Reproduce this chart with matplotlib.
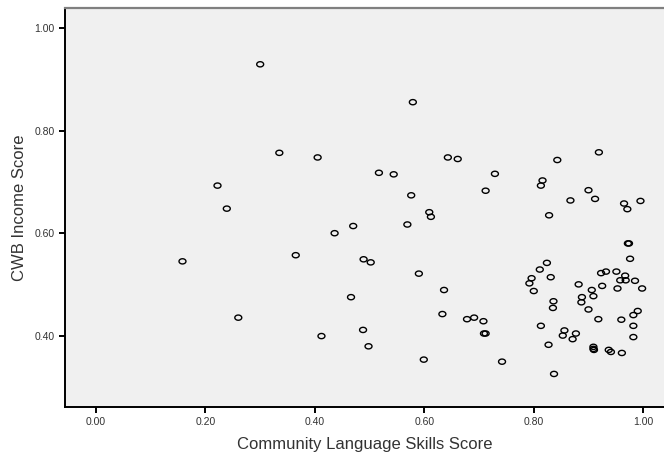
import numpy as np
import matplotlib
matplotlib.use("Agg")
import matplotlib.pyplot as plt
from matplotlib.path import Path

plt.rcParams['font.family'] = ['Liberation Sans', 'DejaVu Sans']

# Community language skills score vs. CWB income score
language_score = [
    0.300, 0.335, 0.405, 0.222, 0.239, 0.579, 0.643, 0.661, 0.517, 0.544,
    0.729, 0.843, 0.919, 0.576, 0.712, 0.816, 0.813, 0.900, 0.912, 0.867,
    0.965, 0.971, 0.995, 0.609, 0.612, 0.828, 0.470, 0.569, 0.436, 0.158,
    0.365, 0.260, 0.412, 0.489, 0.502, 0.466, 0.488, 0.498, 0.590, 0.636,
    0.633, 0.599, 0.678, 0.691, 0.708, 0.709, 0.712, 0.742, 0.824, 0.811,
    0.831, 0.796, 0.792, 0.800, 0.836, 0.835, 0.813, 0.827, 0.837, 0.856,
    0.853, 0.871, 0.877, 0.882, 0.906, 0.909, 0.888, 0.887, 0.900, 0.918,
    0.909, 0.909, 0.910, 0.937, 0.941, 0.961, 0.925, 0.923, 0.932, 0.951,
    0.967, 0.968, 0.958, 0.985, 0.998, 0.953, 0.972, 0.974, 0.976, 0.990,
    0.982, 0.960, 0.982, 0.982,
]
income_score = [
    0.930, 0.757, 0.748, 0.693, 0.648, 0.856, 0.748, 0.745, 0.718, 0.715,
    0.716, 0.743, 0.758, 0.674, 0.683, 0.703, 0.693, 0.684, 0.667, 0.664,
    0.658, 0.647, 0.663, 0.641, 0.632, 0.635, 0.614, 0.617, 0.600, 0.545,
    0.557, 0.435, 0.399, 0.549, 0.543, 0.475, 0.411, 0.379, 0.521, 0.489,
    0.442, 0.353, 0.432, 0.435, 0.428, 0.404, 0.404, 0.349, 0.542, 0.529,
    0.514, 0.512, 0.502, 0.487, 0.467, 0.454, 0.419, 0.382, 0.325, 0.410,
    0.400, 0.393, 0.404, 0.500, 0.489, 0.477, 0.475, 0.465, 0.451, 0.432,
    0.378, 0.374, 0.372, 0.372, 0.368, 0.366, 0.497, 0.522, 0.525, 0.525,
    0.517, 0.508, 0.508, 0.507, 0.492, 0.492, 0.580, 0.580, 0.550, 0.448,
    0.440, 0.431, 0.419, 0.397,
]
x_ticks = [0.0, 0.2, 0.4, 0.6, 0.8, 1.0]
y_ticks = [0.4, 0.6, 0.8, 1.0]

# slightly flattened ring marker
t = np.linspace(0, 2 * np.pi, 40)
ring = Path(np.column_stack([np.cos(t), 0.75 * np.sin(t)]), closed=True)

fig = plt.figure(figsize=(6.64, 4.54), dpi=100)
ax = fig.add_axes([65 / 664, 1 - 406.7 / 454, 1 - 65 / 664, (406.7 - 8) / 454])
ax.set_facecolor('#f0f0f0')

ax.scatter(language_score, income_score, marker=ring, s=25,
           facecolors='none', edgecolors='black', linewidths=1.0)

ax.set_xlim(-0.0567, 1.038)
ax.set_ylim(0.261, 1.040)
ax.set_xticks(x_ticks)
ax.set_yticks(y_ticks)
ax.set_xticklabels([f"{v:.2f}" for v in x_ticks])
ax.set_yticklabels([f"{v:.2f}" for v in y_ticks])
ax.tick_params(axis='both', direction='out', length=4.5, width=1.4,
               color='black', labelsize=7.5, labelcolor='#333333', pad=3)

for side in ('left', 'bottom'):
    ax.spines[side].set_color('black')
    ax.spines[side].set_linewidth(1.4)
ax.spines['top'].set_color('#808080')
ax.spines['top'].set_linewidth(1.6)
ax.spines['right'].set_visible(False)

ax.set_xlabel('Community Language Skills Score', fontsize=12, color='#333333', labelpad=7)
ax.set_ylabel('CWB Income Score', fontsize=12, color='#333333', labelpad=5)

fig.savefig('out.png', dpi=100)
